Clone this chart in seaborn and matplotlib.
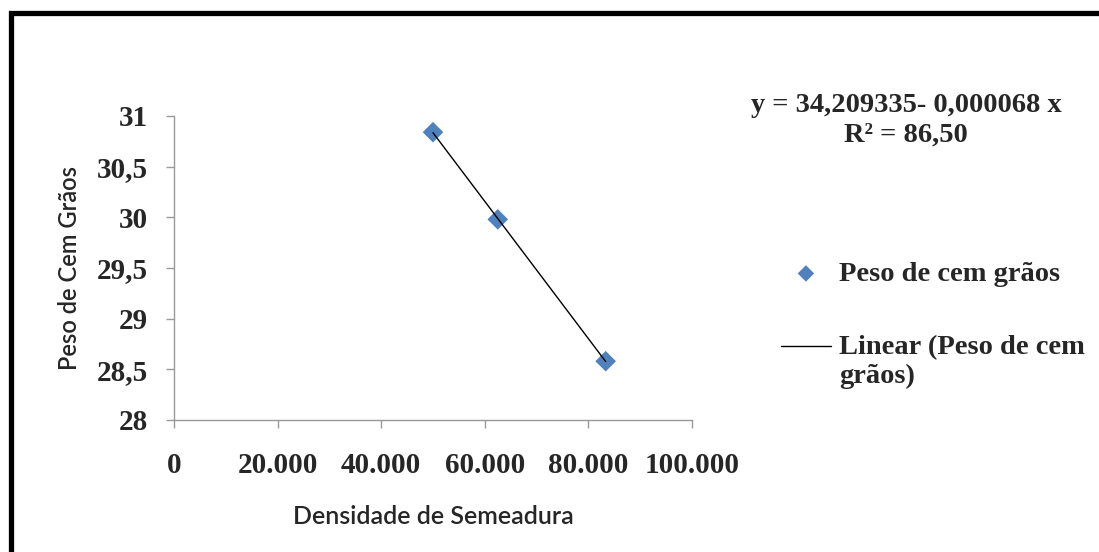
import numpy as np
import pandas as pd
import seaborn as sns
import matplotlib.pyplot as plt
from matplotlib.patches import Rectangle
from matplotlib.legend_handler import HandlerLine2D

# data
densidade = [50000, 62500, 83333]
peso = [30.84, 29.98, 28.58]
y_ticks = [28, 28.5, 29, 29.5, 30, 30.5, 31]
y_labels = ['28', '28,5', '29', '29,5', '30', '30,5', '31']
x_ticks = [0, 20000, 40000, 60000, 80000, 100000]
x_labels = ['0', '20.000', '40.000', '60.000', '80.000', '100.000']
equacao = 'y = 34,209335- 0,000068 x\nR² = 86,50'

df = pd.DataFrame({'Densidade': densidade, 'Peso': peso})


# legend line sits on the first text line, like Excel does
class TopLine(HandlerLine2D):
    def create_artists(self, legend, orig_handle, xdescent, ydescent,
                       width, height, fontsize, trans):
        arts = super().create_artists(legend, orig_handle, xdescent, ydescent,
                                      width, height, fontsize, trans)
        for a in arts:
            a.set_ydata([y + 0.55 * fontsize for y in a.get_ydata()])
        return arts


sns.set_style('white')
serif = ['Liberation Serif', 'DejaVu Serif']
sans = ['Lato', 'DejaVu Sans']

fig = plt.figure(figsize=(10.99, 5.52), dpi=100)
ax = fig.add_axes([174 / 1099, 1 - 420 / 552, 518 / 1099, 304 / 552])

sns.scatterplot(data=df, x='Densidade', y='Peso', ax=ax, marker='D', s=110,
                color='#4F81BD', edgecolor='none', zorder=2,
                label='Peso de cem grãos', legend=False)
sns.regplot(data=df, x='Densidade', y='Peso', ax=ax, scatter=False, ci=None,
            truncate=True, color='black', line_kws={'lw': 1, 'zorder': 3})
trend = ax.lines[-1]
trend.set_label('Linear (Peso de cem\ngrãos)')

ax.set_xlim(0, 100000)
ax.set_ylim(28, 31)
ax.set_xticks(x_ticks)
ax.set_xticklabels(x_labels)
ax.set_yticks(y_ticks)
ax.set_yticklabels(y_labels)

for s in ['top', 'right']:
    ax.spines[s].set_visible(False)
for s in ['left', 'bottom']:
    ax.spines[s].set_color('#999999')
    ax.spines[s].set_linewidth(1)
ax.tick_params(axis='both', which='major', direction='out', length=6,
               width=1, color='#999999', left=True, bottom=True)
ax.tick_params(axis='y', pad=13)
ax.tick_params(axis='x', pad=17)
for t in ax.get_xticklabels() + ax.get_yticklabels():
    t.set_fontfamily(serif)
    t.set_fontweight('bold')
    t.set_fontsize(21)

ax.set_xlabel('Densidade de Semeadura', fontfamily=sans, fontsize=18,
              fontweight='semibold', labelpad=19)
ax.set_ylabel('Peso de Cem Grãos', fontfamily=sans, fontsize=17,
              fontweight='semibold', labelpad=11)

handles, labels = ax.get_legend_handles_labels()
leg = ax.legend(handles, labels, loc='upper left',
                bbox_to_anchor=(781 / 1099, 1 - 261 / 552),
                bbox_transform=fig.transFigure, frameon=False,
                prop={'family': serif, 'weight': 'bold', 'size': 20.5},
                handlelength=1.75, handletextpad=0.3, labelspacing=1.7,
                borderpad=0, borderaxespad=0, markerscale=0.8,
                handler_map={trend: TopLine()})

fig.text(906 / 1099, 1 - 120 / 552, equacao, ha='center', va='center',
         multialignment='center', fontfamily=serif, fontweight='bold',
         fontsize=20.5, linespacing=1.25)

# outer frame (only top and left edges visible in the crop)
fig.patches.append(Rectangle((10.5 / 1099, -0.1), 1.2, 1 - 12.5 / 552 + 0.1,
                             transform=fig.transFigure, fill=False,
                             edgecolor='black', lw=3.8, zorder=10))

fig.savefig('out.png', dpi=100)
plt.close()
